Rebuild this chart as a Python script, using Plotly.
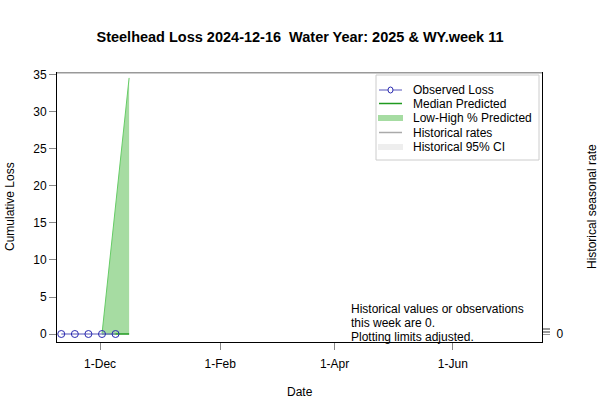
import plotly.graph_objects as go

# ---- data ----
obs_dates = ["2024-11-11", "2024-11-18", "2024-11-25", "2024-12-02", "2024-12-09"]
obs_loss = [0, 0, 0, 0, 0]

pred_dates = ["2024-12-02", "2024-12-16"]
pred_median = [0, 0]
pred_low = [0, 0]
pred_high = [0, 34.6]

hist_rate_dates = ["2024-11-08", "2025-07-17"]
hist_rate = [35.35, 35.35]

tick_dates = ["2024-12-01", "2025-02-01", "2025-04-01", "2025-06-01"]
tick_labels = ["1-Dec", "1-Feb", "1-Apr", "1-Jun"]

y_ticks = [0, 5, 10, 15, 20, 25, 30, 35]
y2_ticks = [0, 0.2, 0.4, 0.6, 0.8]
y2_labels = ["0", "", "", "", ""]

legend_names = ["Observed Loss", "Median Predicted", "Low-High % Predicted",
                "Historical rates", "Historical 95% CI"]

note_lines = ["Historical values or observations", "this week are 0.",
              "Plotting limits adjusted."]

FONT = "Liberation Sans, Arial, Helvetica, sans-serif"

# plot-area geometry (pixels) used for placing legend/labels
L, R, T, B = 57, 542, 72, 342


def px(x):
    return (x - L) / (R - L)


def py(y):
    return (B - y) / (B - T)


fig = go.Figure()

# predicted band
fig.add_trace(go.Scatter(x=pred_dates, y=pred_low, mode="lines",
                         line=dict(color="rgba(0,0,0,0)", width=0),
                         showlegend=False, hoverinfo="skip"))
fig.add_trace(go.Scatter(x=pred_dates, y=pred_high, mode="lines", fill="tonexty",
                         fillcolor="#a6dca2", line=dict(color="#66cc66", width=1),
                         showlegend=False))
# median
fig.add_trace(go.Scatter(x=pred_dates, y=pred_median, mode="lines",
                         line=dict(color="#1f9a1f", width=1.5), showlegend=False))
# observed
fig.add_trace(go.Scatter(x=obs_dates, y=obs_loss, mode="lines+markers",
                         line=dict(color="#8c8cd0", width=1.5),
                         marker=dict(symbol="circle-open", size=7,
                                     line=dict(color="#2a2ab0", width=1), color="#2a2ab0"),
                         showlegend=False))
# historical rate line (secondary axis)
fig.add_trace(go.Scatter(x=hist_rate_dates, y=hist_rate, mode="lines", yaxis="y2",
                         line=dict(color="#999999", width=2.5), showlegend=False))

# ---- manual legend ----
shapes = []
annotations = []
leg_rows = [90, 103.5, 118, 132.5, 147]
shapes.append(dict(type="rect", xref="paper", yref="paper",
                   x0=px(376), x1=px(539), y0=py(160), y1=py(75),
                   line=dict(color="#cccccc", width=1), fillcolor="white", layer="above"))
sym_styles = [
    dict(color="#5555bb", width=1),
    dict(color="#1f9a1f", width=1.5),
    dict(color="#a6dca2", width=6),
    dict(color="#aaaaaa", width=1.5),
    dict(color="#eeeeee", width=6),
]
for i, (name, yrow) in enumerate(zip(legend_names, leg_rows)):
    wide = sym_styles[i]["width"] >= 5
    x0, x1 = (378, 403) if wide else (379, 402)
    shapes.append(dict(type="line", xref="paper", yref="paper",
                       x0=px(x0), x1=px(x1), y0=py(yrow), y1=py(yrow),
                       line=sym_styles[i], layer="above"))
    annotations.append(dict(text=name, xref="paper", yref="paper", x=px(411), y=py(yrow),
                            showarrow=False, xanchor="left", yanchor="middle",
                            font=dict(size=12)))
# observed-loss symbol circle
shapes.append(dict(type="circle", xref="paper", yref="paper",
                   x0=px(388), x1=px(393), y0=py(leg_rows[0]) - 3 / (B - T),
                   y1=py(leg_rows[0]) + 3 / (B - T),
                   line=dict(color="#2a2ab0", width=1), fillcolor="white", layer="above"))

# axis titles
annotations += [
    dict(text="Cumulative Loss", xref="paper", yref="paper", x=px(10), y=0.5,
         textangle=-90, showarrow=False, xanchor="center", yanchor="middle"),
    dict(text="Historical seasonal rate", xref="paper", yref="paper",
         x=px(592), y=0.5, textangle=-90, showarrow=False,
         xanchor="center", yanchor="middle"),
    dict(text="Date", xref="paper", yref="paper", x=0.5, y=py(392),
         showarrow=False, xanchor="center", yanchor="middle"),
]
for line_text, yl in zip(note_lines, [309, 323, 337]):
    annotations.append(dict(text=line_text, xref="paper", yref="paper", x=px(349), y=py(yl),
                            showarrow=False, xanchor="left", yanchor="middle", align="left"))

fig.update_layout(
    width=600, height=400,
    margin=dict(l=L, r=600 - R, t=T, b=400 - B),
    paper_bgcolor="white", plot_bgcolor="white",
    font=dict(family=FONT, size=12, color="black"),
    title=dict(text="<b>Steelhead Loss 2024-12-16  Water Year: 2025 & WY.week 11</b>",
               x=0.5, xanchor="center", y=1 - 37 / 400, yanchor="middle",
               font=dict(size=14.5, family=FONT)),
    showlegend=False,
    xaxis=dict(type="date", range=["2024-11-08 19:00", "2025-07-17"],
               tickvals=tick_dates, ticktext=tick_labels,
               showgrid=False, zeroline=False, showline=True, linecolor="black",
               ticks="outside", ticklen=7, tickcolor="#888888", ticklabelstandoff=4),
    yaxis=dict(range=[-1.08, 35.4], tickvals=y_ticks, showgrid=False, zeroline=False,
               showline=True, linecolor="black", ticks="outside", ticklen=7,
               tickcolor="#888888"),
    yaxis2=dict(overlaying="y", side="right", range=[-1.08, 35.4], tickvals=y2_ticks,
                ticktext=y2_labels, showgrid=False, zeroline=False, showline=True,
                linecolor="black", ticks="outside", ticklen=7, tickcolor="#999999",
                ticklabelstandoff=4),
    shapes=shapes,
    annotations=annotations,
)

fig.write_html("out.html", config={"displayModeBar": False},
               post_script="document.body.style.margin='0';")
